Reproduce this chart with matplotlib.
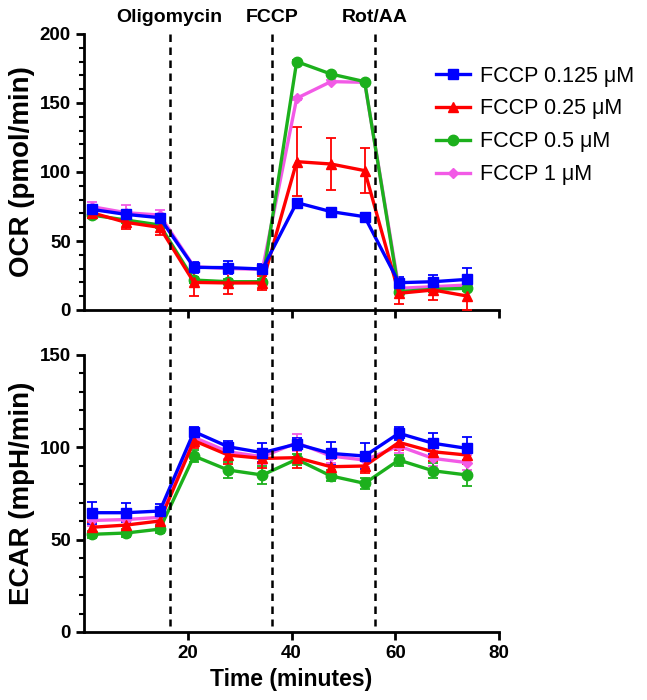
import matplotlib
matplotlib.use("Agg")
import matplotlib.pyplot as plt
from matplotlib.lines import Line2D
from matplotlib.ticker import MultipleLocator, FixedLocator
import matplotlib.transforms as mtransforms

plt.rcParams['font.family'] = ['Liberation Sans', 'DejaVu Sans']

# ---------------- data ----------------
time = [1.5, 8.1, 14.6, 21.2, 27.8, 34.4, 41.0, 47.6, 54.1, 60.7, 67.3, 73.9]

labels = ["FCCP 0.125 \u03bcM", "FCCP 0.25 \u03bcM", "FCCP 0.5 \u03bcM", "FCCP 1 \u03bcM"]
colors = ["#0000ff", "#ff0000", "#1cb01c", "#f25ae6"]
markers = ["s", "^", "o", "D"]

ocr_0125 = [72.9, 69.3, 66.9, 30.9, 30.7, 29.7, 77.8, 71.3, 67.6, 19.8, 20.5, 22.2]
ocr_025 = [70.5, 63.5, 59.9, 20.0, 19.6, 19.6, 107.5, 105.8, 101.0, 12.1, 14.5, 10.1]
ocr_05 = [68.8, 65.2, 61.6, 21.7, 20.5, 20.5, 180.0, 171.0, 165.5, 13.3, 15.0, 15.7]
ocr_1 = [74.9, 70.5, 68.8, 31.4, 30.0, 29.5, 153.4, 165.5, 165.0, 15.7, 16.9, 18.1]

ocr_0125_err = [2.5, 2.5, 2.5, 4.0, 4.5, 3.5, 1.5, 1.5, 1.5, 4.0, 5.0, 8.0]
ocr_025_err = [3.0, 5.0, 5.5, 10.0, 8.0, 5.0, 25.0, 19.0, 16.5, 8.0, 7.5, 10.0]
ocr_05_err = [2.0, 2.0, 2.0, 2.0, 2.0, 2.0, 1.0, 1.0, 1.0, 2.0, 2.0, 2.0]
ocr_1_err = [3.0, 5.5, 3.5, 3.0, 3.0, 3.0, 1.0, 1.0, 1.0, 2.0, 2.0, 2.0]

ecar_0125 = [64.6, 64.6, 65.5, 108.5, 100.3, 97.1, 101.8, 96.7, 95.3, 107.6, 102.2, 99.4]
ecar_025 = [56.7, 57.9, 60.1, 103.6, 95.8, 94.0, 94.4, 89.5, 89.9, 102.7, 97.6, 95.8]
ecar_05 = [52.9, 53.6, 55.7, 95.3, 87.7, 85.0, 93.5, 84.5, 80.5, 93.1, 87.3, 85.0]
ecar_1 = [60.4, 60.9, 62.1, 105.4, 97.6, 94.9, 102.5, 95.3, 93.1, 100.7, 94.0, 91.7]

ecar_0125_err = [6.0, 5.0, 4.0, 2.7, 3.3, 5.0, 3.0, 6.3, 7.0, 3.6, 5.7, 6.3]
ecar_025_err = [3.0, 3.0, 3.0, 4.0, 5.0, 5.0, 5.8, 4.0, 4.0, 4.0, 5.0, 5.0]
ecar_05_err = [2.0, 2.0, 2.0, 3.0, 4.5, 5.0, 3.0, 3.0, 3.0, 3.0, 4.0, 6.0]
ecar_1_err = [3.0, 3.0, 3.0, 4.0, 4.0, 4.0, 4.7, 4.0, 4.0, 4.0, 4.0, 4.0]

injections = [16.5, 36.3, 56.1]
injection_names = ["Oligomycin", "FCCP", "Rot/AA"]

ocr = [ocr_0125, ocr_025, ocr_05, ocr_1]
ocr_err = [ocr_0125_err, ocr_025_err, ocr_05_err, ocr_1_err]
ecar = [ecar_0125, ecar_025, ecar_05, ecar_1]
ecar_err = [ecar_0125_err, ecar_025_err, ecar_05_err, ecar_1_err]

# ---------------- figure ----------------
fig = plt.figure(figsize=(6.47, 7.0), dpi=100)
L, R = 84 / 647, 499 / 647
ax1 = fig.add_axes([L, 1 - 310 / 700, R - L, (310 - 34) / 700])
ax2 = fig.add_axes([L, 1 - 632 / 700, R - L, (632 - 355) / 700])

draw_order = [3, 2, 1, 0]

def msize(m):
    return 5.5 if m == "D" else 7.5

def plot_panel(ax, vals, errs):
    for i in draw_order:
        ax.errorbar(time, vals[i], yerr=errs[i], color=colors[i], marker=markers[i],
                    markersize=msize(markers[i]), linewidth=2.4, elinewidth=1.3, capsize=3.5,
                    capthick=1.3, clip_on=False, zorder=3)

plot_panel(ax1, ocr, ocr_err)
plot_panel(ax2, ecar, ecar_err)

for ax, ymax in ((ax1, 200), (ax2, 150)):
    ax.set_xlim(0, 80)
    ax.set_ylim(0, ymax)
    ax.spines['top'].set_visible(False)
    ax.spines['right'].set_visible(False)
    for s in ('left', 'bottom'):
        ax.spines[s].set_linewidth(2)
    ax.yaxis.set_major_locator(MultipleLocator(50))
    ax.yaxis.set_minor_locator(MultipleLocator(10))
    ax.xaxis.set_major_locator(FixedLocator([20, 40, 60, 80]))
    ax.tick_params(axis='both', which='major', length=6, width=2, labelsize=13.5, direction='out')
    ax.tick_params(axis='y', which='minor', length=3.5, width=1.5)
    for lab in ax.get_yticklabels() + ax.get_xticklabels():
        lab.set_fontweight('bold')

ax1.tick_params(axis='x', labelbottom=False)
ax1.set_ylabel("OCR (pmol/min)", fontsize=20, fontweight='bold', va='center')
ax2.set_ylabel("ECAR (mpH/min)", fontsize=20, fontweight='bold', va='center')
ax1.yaxis.set_label_coords((22 - 84) / 415, 0.5)
ax2.yaxis.set_label_coords((22 - 84) / 415, 0.5)
ax2.set_xlabel("Time (minutes)", fontsize=16.5, fontweight='bold', labelpad=4)

# injection lines spanning both panels
trans = mtransforms.blended_transform_factory(ax2.transData, fig.transFigure)
for xv, name in zip(injections, injection_names):
    fig.add_artist(Line2D([xv, xv], [1 - 34 / 700, 1 - 626 / 700], transform=trans,
                          color='black', linewidth=1.8, linestyle=(0, (3, 2.2)), zorder=1))
    fig.text(xv, 1 - 18 / 700, name, transform=trans, ha='center', va='center',
             fontsize=14, fontweight='bold')

proxies = [Line2D([], [], color=colors[i], marker=markers[i], markersize=msize(markers[i]),
                  linewidth=2.4) for i in range(4)]
fig.legend(proxies, labels, loc='upper left',
           bbox_to_anchor=(427 / 647, 1 - 57 / 700), frameon=False, fontsize=15.5,
           handlelength=1.6, handletextpad=0.45, labelspacing=0.55, borderaxespad=0)

fig.savefig("out.png", dpi=100)
